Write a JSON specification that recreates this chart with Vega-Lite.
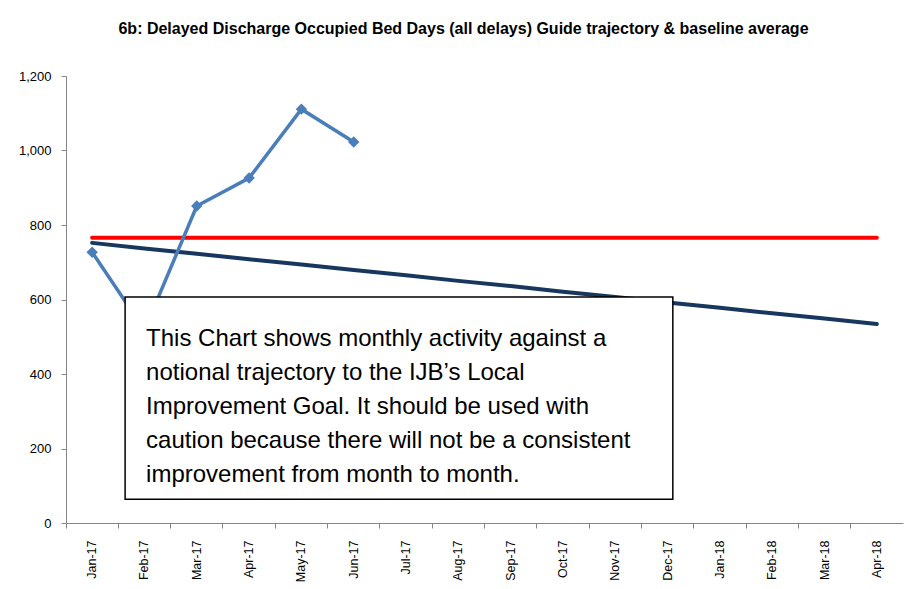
{
  "$schema": "https://vega.github.io/schema/vega-lite/v6.json",
  "width": 837,
  "height": 447,
  "autosize": "none",
  "padding": {"left": 66, "top": 76, "right": 4, "bottom": 66},
  "background": "white",
  "title": {
    "text": "6b: Delayed Discharge Occupied Bed Days (all delays) Guide trajectory & baseline average",
    "font": "Liberation Sans",
    "fontSize": 16,
    "fontWeight": "bold",
    "color": "#000000",
    "anchor": "middle",
    "frame": "group",
    "dx": -21,
    "offset": 33
  },
  "config": {
    "view": {"stroke": null},
    "axis": {"grid": false}
  },
  "datasets": {
    "activity": [
      {"month": "Jan-17", "value": 727},
      {"month": "Feb-17", "value": 518},
      {"month": "Mar-17", "value": 851},
      {"month": "Apr-17", "value": 926},
      {"month": "May-17", "value": 1111},
      {"month": "Jun-17", "value": 1023}
    ],
    "trajectory": [
      {"month": "Jan-17", "value": 752, "baseline": 766},
      {"month": "Feb-17", "value": 737, "baseline": 766},
      {"month": "Mar-17", "value": 723, "baseline": 766},
      {"month": "Apr-17", "value": 708, "baseline": 766},
      {"month": "May-17", "value": 694, "baseline": 766},
      {"month": "Jun-17", "value": 679, "baseline": 766},
      {"month": "Jul-17", "value": 665, "baseline": 766},
      {"month": "Aug-17", "value": 650, "baseline": 766},
      {"month": "Sep-17", "value": 636, "baseline": 766},
      {"month": "Oct-17", "value": 621, "baseline": 766},
      {"month": "Nov-17", "value": 607, "baseline": 766},
      {"month": "Dec-17", "value": 592, "baseline": 766},
      {"month": "Jan-18", "value": 578, "baseline": 766},
      {"month": "Feb-18", "value": 563, "baseline": 766},
      {"month": "Mar-18", "value": 549, "baseline": 766},
      {"month": "Apr-18", "value": 534, "baseline": 766}
    ],
    "note": [
      {"lines": ["This Chart shows monthly activity against a", "notional trajectory to the IJB\u2019s Local", "Improvement Goal. It should be used with", "caution because there will not be a consistent", "improvement from month to month."], "left": "Feb-17", "right": "Dec-17", "top": 607, "bottom": 64, "texty": 493}
    ]
  },
  "layer": [
    {
      "data": {"name": "trajectory"},
      "mark": {"type": "line", "color": "#FF0000", "strokeWidth": 4, "strokeCap": "round"},
      "encoding": {
        "x": {
          "field": "month", "type": "ordinal", "bandPosition": 0.5, "sort": null,
          "scale": {"type": "band", "paddingInner": 0, "paddingOuter": 0, "domain": ["Jan-17","Feb-17","Mar-17","Apr-17","May-17","Jun-17","Jul-17","Aug-17","Sep-17","Oct-17","Nov-17","Dec-17","Jan-18","Feb-18","Mar-18","Apr-18"]},
          "axis": {
            "title": null,
            "bandPosition": 0,
            "labelAngle": -90,
            "labelAlign": "right",
            "labelBaseline": "middle",
            "labelFont": "Liberation Sans",
            "labelFontSize": 12.5,
            "labelColor": "#000000",
            "labelPadding": 12,
            "tickSize": 5,
            "tickColor": "#868686",
            "domainColor": "#868686",
            "domainWidth": 1
          }
        },
        "y": {
          "field": "baseline", "type": "quantitative",
          "scale": {"domain": [0, 1200], "nice": false},
          "axis": {
            "title": null,
            "values": [0, 200, 400, 600, 800, 1000, 1200],
            "format": ",.0f",
            "labelFont": "Liberation Sans",
            "labelFontSize": 13,
            "labelColor": "#000000",
            "labelPadding": 10,
            "tickSize": 5,
            "tickColor": "#868686",
            "domainColor": "#868686",
            "domainWidth": 1
          }
        }
      }
    },
    {
      "data": {"name": "trajectory"},
      "mark": {"type": "line", "color": "#17375E", "strokeWidth": 4, "strokeCap": "round"},
      "encoding": {
        "x": {"field": "month", "type": "ordinal", "bandPosition": 0.5, "sort": null},
        "y": {"field": "value", "type": "quantitative"}
      }
    },
    {
      "data": {"name": "activity"},
      "mark": {"type": "line", "color": "#4A7EBB", "strokeWidth": 3.5, "point": {"shape": "diamond", "size": 130, "filled": true, "color": "#4A7EBB"}},
      "encoding": {
        "x": {"field": "month", "type": "ordinal", "bandPosition": 0.5, "sort": null},
        "y": {"field": "value", "type": "quantitative"}
      }
    },
    {
      "data": {"name": "note"},
      "mark": {"type": "rect", "fill": "white", "stroke": "#000000", "strokeWidth": 1.5},
      "encoding": {
        "x": {"field": "left", "type": "ordinal", "bandPosition": 0.13, "sort": null},
        "x2": {"field": "right", "bandPosition": 0.6},
        "y": {"field": "top", "type": "quantitative"},
        "y2": {"field": "bottom"}
      }
    },
    {
      "data": {"name": "note"},
      "mark": {"type": "text", "align": "left", "baseline": "middle", "font": "Liberation Sans", "fontSize": 24, "lineHeight": 34, "color": "#000000", "dx": 21},
      "encoding": {
        "x": {"field": "left", "type": "ordinal", "bandPosition": 0.13, "sort": null},
        "y": {"field": "texty", "type": "quantitative"},
        "text": {"field": "lines"}
      }
    }
  ]
}
